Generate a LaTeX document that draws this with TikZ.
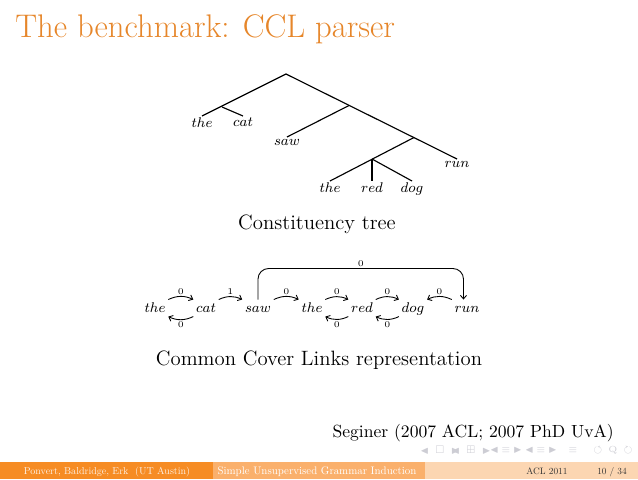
\documentclass[tikz,border=0pt]{standalone}
\usepackage{amssymb}
\usetikzlibrary{arrows.meta}
\definecolor{titleorange}{RGB}{230,134,42}
\definecolor{barleft}{RGB}{246,140,36}
\definecolor{barmid}{RGB}{250,176,108}
\definecolor{barright}{RGB}{252,214,178}
\definecolor{navgray}{RGB}{205,205,212}

\begin{document}
\begin{tikzpicture}[x=0.5688pt,y=-0.5688pt,
  word/.style={inner sep=1pt,font=\fontsize{8}{9}\selectfont},
  cclword/.style={inner sep=1.4pt,text height=5.5pt,text depth=1pt,
                  font=\fontsize{8.2}{9}\selectfont},
  branch/.style={line width=0.65pt},
  link/.style={line width=0.5pt,-{Straight Barb[length=2pt,width=3.5pt]}},
  lab/.style={inner sep=0.8pt,font=\fontsize{5}{6}\selectfont},
  caption/.style={inner sep=0pt,font=\fontsize{11.8}{14}\selectfont},
  foot/.style={inner sep=0pt,font=\fontsize{10}{12}\selectfont},
  nav/.style={inner sep=0pt,text=navgray,font=\fontsize{5}{6}\selectfont}]
  \useasboundingbox (0,0) rectangle (638,479);
  \node[anchor=base west,inner sep=0,text=titleorange,
        font=\fontsize{18.6}{22}\selectfont] (title) at (15,37) {The benchmark: CCL parser};

  % constituency tree
  \coordinate (r) at (286,74);
  \coordinate (n1) at (222,107);
  \coordinate (n2) at (349,105.5);
  \coordinate (n3) at (414,137.5);
  \coordinate (n4) at (372,159);
  \node[word,anchor=north] (t1) at (202,116) {$the$};
  \node[word,anchor=north] (t2) at (243,116) {$cat$};
  \node[word,anchor=north] (t3) at (287,137) {$saw$};
  \node[word,anchor=north] (t4) at (330,181) {$the$};
  \node[word,anchor=north] (t5) at (372,181) {$red$};
  \node[word,anchor=north] (t6) at (412,181) {$dog$};
  \node[word,anchor=north] (t7) at (457,159) {$run$};
  \draw[branch] (t1.north) -- (r) -- (t7.north);
  \draw[branch] (n1) -- (t2.north);
  \draw[branch] (n2) -- (t3.north);
  \draw[branch] (n3) -- (t4.north);
  \draw[branch] (n4) -- (t5.north);
  \draw[branch] (n4) -- (t6.north);
  \node[caption,anchor=base] (cap1) at (317,229) {Constituency tree};

  % common cover links
  \foreach \name/\x/\w in {c1/155/the,c2/206/cat,c3/258/saw,c4/312/the,
                           c5/362/red,c6/413/dog,c7/467/run}
    \node[cclword,anchor=base] (\name) at (\x,312) {$\w$};
  \draw[link] (c1.north east) to[bend left=25] node[lab,above] {0} (c2.north west);
  \draw[link] (c2.south west) to[bend left=25] node[lab,below] {0} (c1.south east);
  \draw[link] (c2.north east) to[bend left=25] node[lab,above] {1} (c3.north west);
  \draw[link] (c3.north east) to[bend left=25] node[lab,above] {0} (c4.north west);
  \draw[link] (c4.north east) to[bend left=25] node[lab,above] {0} (c5.north west);
  \draw[link] (c5.south west) to[bend left=25] node[lab,below] {0} (c4.south east);
  \draw[link] (c5.north east) to[bend left=25] node[lab,above] {0} (c6.north west);
  \draw[link] (c6.south west) to[bend left=25] node[lab,below] {0} (c5.south east);
  \draw[link] (c7.north west) to[bend right=25] node[lab,above] {0} (c6.north east);
  \draw[link,rounded corners=6pt] (c3.north) -- ++(0,-31)
    -| node[lab,above,pos=0.25] {0} ([xshift=-2pt]c7.north);
  \node[caption,anchor=base] (cap2) at (319,365) {Common Cover Links representation};

  \node[inner sep=0pt,font=\fontsize{10}{12}\selectfont,anchor=base east] (cite)
    at (614,437) {Seginer (2007 ACL; 2007 PhD UvA)};

  % navigation symbols
  \node[nav] (nav1) at (440,450) {$\blacktriangleleft\,\square\,\blacktriangleright$};
  \node[nav] (nav2) at (471,450) {$\blacktriangleleft\,\boxplus\,\blacktriangleright$};
  \node[nav] (nav3) at (506,450) {$\blacktriangleleft\,\equiv\,\blacktriangleright$};
  \node[nav] (nav4) at (541,450) {$\blacktriangleleft\,\equiv\,\blacktriangleright$};
  \node[nav] (nav5) at (573,450) {$\equiv$};
  \node[nav] (nav6) at (613,450) {$\circlearrowleft\,\mathrm{Q}\,\circlearrowright$};

  % footline
  \fill[barleft] (0,462) rectangle (212.7,479);
  \fill[barmid] (212.7,462) rectangle (425.3,479);
  \fill[barright] (425.3,462) rectangle (638,479);
  \node[foot,scale=0.57,anchor=base,text=white!88!barleft] (authors) at (107,474)
    {Ponvert, Baldridge, Erk\ \ (UT Austin)};
  \node[foot,scale=0.62,anchor=base,text=white] (talk) at (317,474)
    {Simple Unsupervised Grammar Induction};
  \node[foot,scale=0.53,anchor=base,text=black!80] (conf) at (547,474) {ACL 2011};
  \node[foot,scale=0.53,anchor=base,text=black!80] (page) at (612,474) {10 / 34};
\end{tikzpicture}
\end{document}
